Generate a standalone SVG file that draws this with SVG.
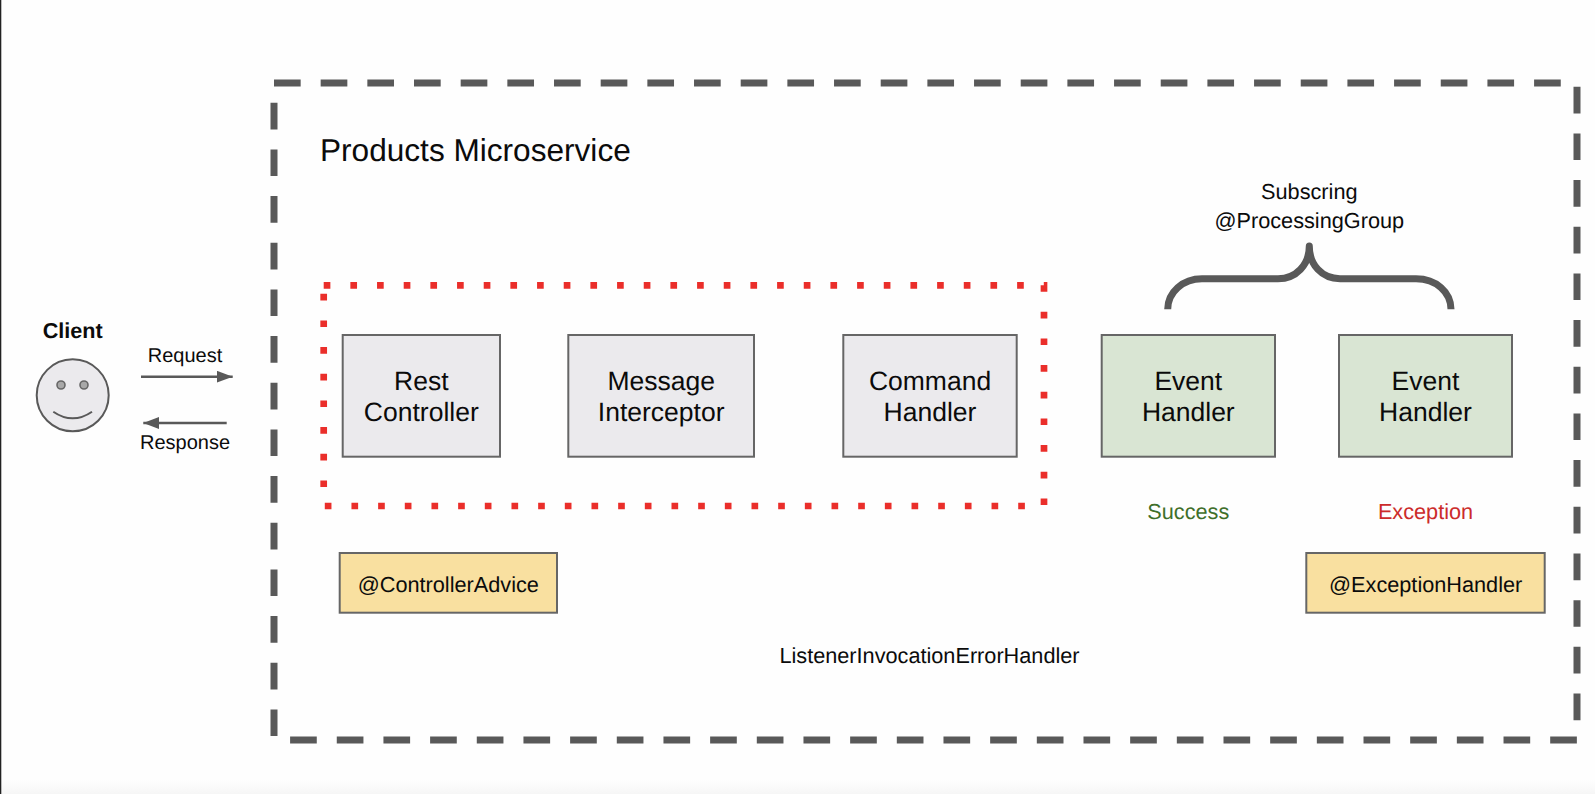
<svg xmlns="http://www.w3.org/2000/svg" width="1595" height="794" viewBox="0 0 1595 794">
<style>
text{font-family:"Liberation Sans",Arial,sans-serif;fill:#0b0b0b;text-anchor:middle;text-rendering:geometricPrecision}
.big{font-size:26.5px}
.mid{font-size:21.7px}
.sm{font-size:20px}
.box{stroke:#666;stroke-width:2}
.grey{fill:#ebeaed}
.green{fill:#d9e5d3}
.yellow{fill:#f9e0a0}
.arrow{fill:none;stroke:#595959;stroke-width:2.4}
</style>
<defs>
<linearGradient id="fade" x1="0" y1="0" x2="0" y2="1"><stop offset="0" stop-color="#fefefe"/><stop offset="1" stop-color="#f6f6f6"/></linearGradient>
<marker id="head" viewBox="0 0 16 12" refX="16" refY="6" markerWidth="16" markerHeight="12" markerUnits="userSpaceOnUse" orient="auto"><path d="M0 0L16 6L0 12Z" fill="#595959"/></marker>
</defs>
<rect width="1595" height="794" fill="#fefefe"/>
<rect y="780" width="1595" height="14" fill="url(#fade)"/>
<rect width="1.3" height="794" fill="#222"/>

<g id="microservice">
<rect x="274" y="83" width="1303" height="657" fill="none" stroke="#595959" stroke-width="7" stroke-dasharray="26.67 20"/>
<text class="title" x="320" y="161" style="text-anchor:start;font-size:31.6px">Products Microservice</text>
</g>
<g id="command-scope">
<rect x="323.7" y="285.3" width="720.3" height="220.7" fill="none" stroke="#ea2e2a" stroke-width="6.7" stroke-dasharray="6.67 20"/>
</g>

<g id="client">
<text x="72.7" y="338.3" style="font-size:21.6px;font-weight:bold">Client</text>
<circle cx="72.7" cy="395.3" r="36" fill="#ebeaed" stroke="#595959" stroke-width="2"/>
<circle cx="61" cy="385" r="4" fill="#a8a8a8" stroke="#666" stroke-width="1.6"/>
<circle cx="84" cy="385" r="4" fill="#a8a8a8" stroke="#666" stroke-width="1.6"/>
<path d="M53.3 411.7Q72.7 425 92 411.7" fill="none" stroke="#595959" stroke-width="2"/>
</g>

<g id="connectors">
<path class="arrow" d="M141 376.7H232.7" marker-end="url(#head)"/>
<path class="arrow" d="M226.7 423H143.3" marker-end="url(#head)"/>
<path d="M1167.7 309.3C1167.7 292 1183 278.7 1202 278.7H1278C1296 278.7 1309.3 265 1309.3 246C1309.3 265 1322 278.7 1340 278.7H1416C1436 278.7 1451 292 1451 309.3" fill="none" stroke="#595959" stroke-width="7" stroke-linejoin="round"/>
</g>
<g id="labels">
<text class="sm" x="185" y="361.7">Request</text>
<text class="sm" x="185" y="449">Response</text>
<text class="mid" x="1309.3" y="199.3">Subscring</text>
<text class="mid" x="1309.3" y="228.3">@ProcessingGroup</text>
<text class="mid" x="929.5" y="663">ListenerInvocationErrorHandler</text>
</g>

<g id="rest-controller">
<rect class="box grey" x="342.7" y="335" width="157.3" height="121.7"/>
<text class="big" x="421.3" y="390">Rest</text>
<text class="big" x="421.3" y="421.3">Controller</text>
</g>
<g id="message-interceptor">
<rect class="box grey" x="568.3" y="335" width="185.7" height="121.7"/>
<text class="big" x="661.2" y="390">Message</text>
<text class="big" x="661.2" y="421.3">Interceptor</text>
</g>
<g id="command-handler">
<rect class="box grey" x="843.3" y="335" width="173.4" height="121.7"/>
<text class="big" x="930" y="390">Command</text>
<text class="big" x="930" y="421.3">Handler</text>
</g>
<g id="event-handler-success">
<rect class="box green" x="1101.7" y="335" width="173.3" height="121.7"/>
<text class="big" x="1188.3" y="390">Event</text>
<text class="big" x="1188.3" y="421.3">Handler</text>
<text class="mid" x="1188.3" y="519" style="fill:#3f6f2a">Success</text>
</g>
<g id="event-handler-exception">
<rect class="box green" x="1339" y="335" width="173" height="121.7"/>
<text class="big" x="1425.5" y="390">Event</text>
<text class="big" x="1425.5" y="421.3">Handler</text>
<text class="mid" x="1425.5" y="519" style="fill:#cc2b2b">Exception</text>
</g>
<g id="controller-advice">
<rect class="box yellow" x="339.7" y="553" width="217.3" height="59.7"/>
<text class="mid" x="448.3" y="591.7">@ControllerAdvice</text>
</g>
<g id="exception-handler">
<rect class="box yellow" x="1306.3" y="553" width="238.4" height="59.7"/>
<text class="mid" x="1425.7" y="591.7">@ExceptionHandler</text>
</g>
</svg>
